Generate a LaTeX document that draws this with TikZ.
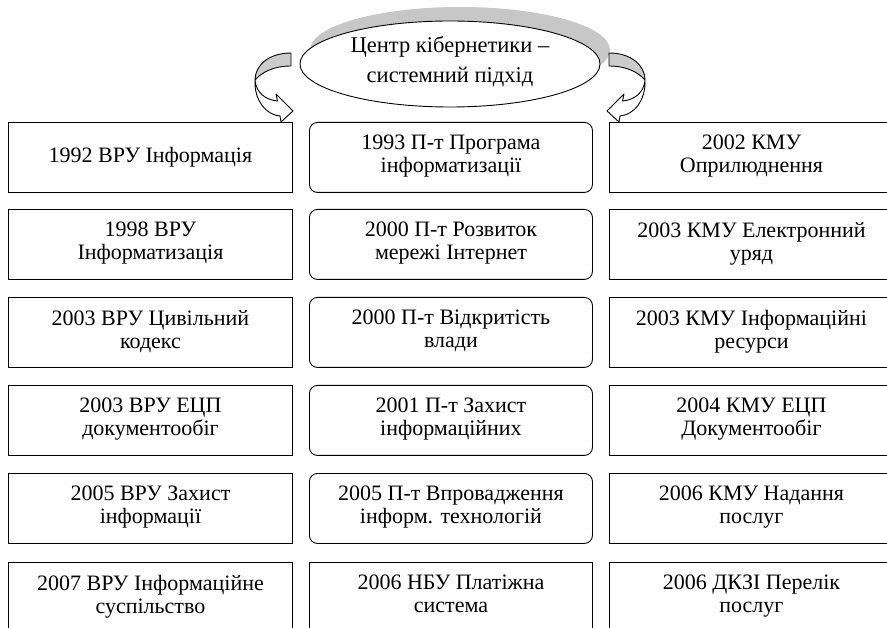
\documentclass[tikz,border=0pt]{standalone}
\usepackage{fontspec}
\setmainfont{Liberation Serif}
\usetikzlibrary{shapes.geometric,shadows}
\begin{document}
\begin{tikzpicture}[x=1pt,y=-1pt,
  lbl/.style={font=\fontsize{22}{23}\selectfont, align=center,
    execute at begin node=\strut, execute at end node=\strut},
  sqbox/.style={lbl,draw,line width=0.9pt,minimum width=284pt,minimum height=70pt,inner sep=0pt,anchor=north west},
  rbox/.style={sqbox,minimum width=283pt,rounded corners=8pt},
  cbox/.style={sqbox,minimum width=283pt},
  ribbon/.style={draw,line width=0.9pt,line join=round},
  backface/.style={ribbon,fill=black!20},
  frontface/.style={ribbon,fill=white},
]
\useasboundingbox (0,0) rectangle (887,628);
\clip (0,0) rectangle (887,628);

% hub ellipse with its grey shadow
\node[ellipse, draw, fill=white, line width=0.9pt,
      font=\fontsize{22.5}{30}\selectfont, align=center,
      execute at begin node=\strut, execute at end node=\strut,
      minimum width=300pt, minimum height=86pt, inner sep=0pt,
      drop shadow={shadow xshift=10pt, shadow yshift=14pt, fill=black!22, opacity=1}]
  (hub) at (450,64) {Центр кібернетики –\\системний підхід};

% left column
\node[sqbox] (l1) at (8,122) {1992 ВРУ Інформація};
\node[sqbox] (l2) at (8,209) {1998 ВРУ\\Інформатизація};
\node[sqbox] (l3) at (8,297) {2003 ВРУ Цивільний\\кодекс};
\node[sqbox] (l4) at (8,385) {2003 ВРУ ЕЦП\\документообіг};
\node[sqbox] (l5) at (8,473) {2005 ВРУ Захист\\інформації};
\node[sqbox] (l6) at (8,562) {2007 ВРУ Інформаційне\\суспільство};

% centre column
\node[rbox] (c1) at (309,122) {1993 П-т Програма\\інформатизації};
\node[rbox] (c2) at (309,209) {2000 П-т Розвиток\\мережі Інтернет};
\node[rbox] (c3) at (309,297) {2000 П-т Відкритість\\влади};
\node[rbox] (c4) at (309,385) {2001 П-т Захист\\інформаційних};
\node[rbox] (c5) at (309,473) {2005 П-т Впровадження\\інформ. технологій};
\node[cbox] (c6) at (309,562) {2006 НБУ Платіжна\\система};

% right column
\node[sqbox] (r1) at (609,122) {2002 КМУ\\Оприлюднення};
\node[sqbox] (r2) at (609,209) {2003 КМУ Електронний\\уряд};
\node[sqbox] (r3) at (609,297) {2003 КМУ Інформаційні\\ресурси};
\node[sqbox] (r4) at (609,385) {2004 КМУ ЕЦП\\Документообіг};
\node[sqbox] (r5) at (609,473) {2006 КМУ Надання\\послуг};
\node[sqbox] (r6) at (609,562) {2006 ДКЗІ Перелік\\послуг};

% curled ribbon arrows from the hub down to the outer columns
\foreach \side in {1,-1}{
  \begin{scope}[shift={(450,0)}, xscale=\side, shift={(-450,0)}]
    \path[backface] (291,53) .. controls (268,53) and (255,66) .. (255,80)
      .. controls (262,72) and (274,66) .. (291,66) -- cycle;
    \path[frontface] (255,80) .. controls (254,100) and (266,115) .. (280,116)
      -- (281,122) -- (293,111) -- (276,94) -- (277.5,101)
      .. controls (266,100) and (256,93) .. (255,80) -- cycle;
  \end{scope}
}
\end{tikzpicture}
\end{document}
